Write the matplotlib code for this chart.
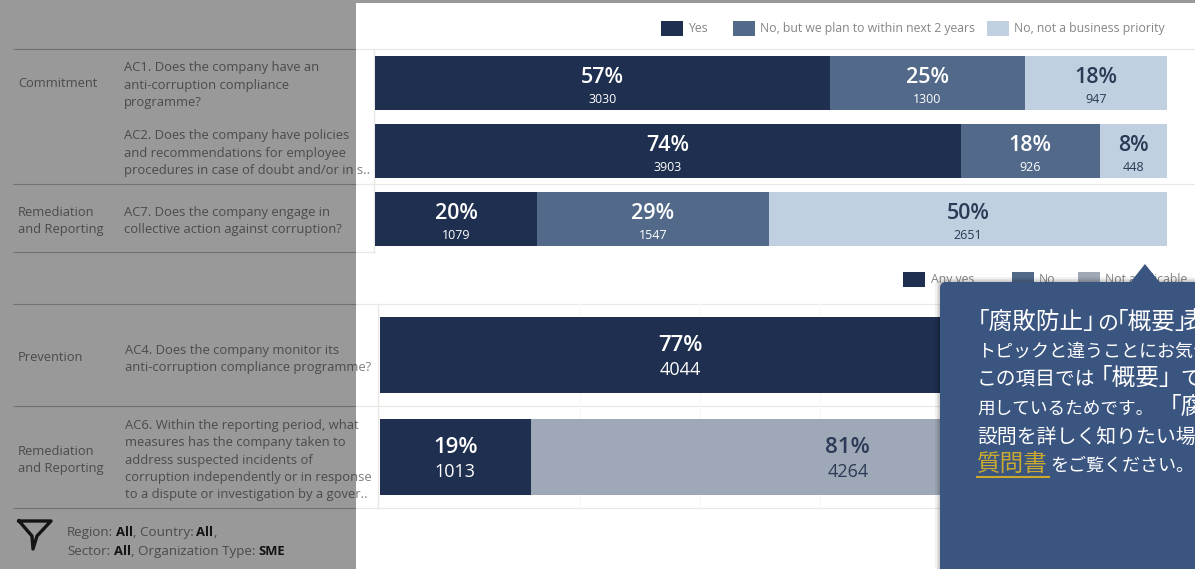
import matplotlib
matplotlib.use("Agg")
import matplotlib.pyplot as plt
from matplotlib.patches import Rectangle, FancyBboxPatch, Polygon

W, H = 1195, 569
LATIN = ["Open Sans", "DejaVu Sans"]
CJK = ["Noto Sans CJK JP", "DejaVu Sans"]

# ---- data ----
top_questions = ["AC1", "AC2", "AC7"]
top_series = ["Yes", "No, but we plan to within next 2 years", "No, not a business priority"]
top_yes = [3030, 3903, 1079]
top_plan = [1300, 926, 1547]
top_not = [947, 448, 2651]
top_yes_pct = ["57%", "74%", "20%"]
top_plan_pct = ["25%", "18%", "29%"]
top_not_pct = ["18%", "8%", "50%"]

bottom_questions = ["AC4", "AC6"]
bottom_series = ["Any yes", "No", "Not applicable"]
bottom_yes = [4044, 1013]
bottom_no = [1233, 0]        # hidden behind the callout in the reference
bottom_na = [0, 4264]
bottom_yes_pct = ["77%", "19%"]
bottom_no_pct = ["", ""]
bottom_na_pct = ["", "81%"]

row_texts = [
    ("Commitment", 83, "AC1. Does the company have an\nanti-corruption compliance\nprogramme?", 85),
    ("", 0, "AC2. Does the company have policies\nand recommendations for employee\nprocedures in case of doubt and/or in s..", 153),
    ("Remediation\nand Reporting", 221, "AC7. Does the company engage in\ncollective action against corruption?", 221),
    ("Prevention", 357, "AC4. Does the company monitor its\nanti-corruption compliance programme?", 359),
    ("Remediation\nand Reporting", 460, "AC6. Within the reporting period, what\nmeasures has the company taken to\naddress suspected incidents of\ncorruption independently or in response\nto a dispute or investigation by a gover..", 460),
]
# (text, x px, baseline y px, font size, colour)
WHITE, GOLD = "white", "#c9a92f"
callout_runs = [
    ("「腐敗防止」", 966, 329, 17, WHITE),
    ("の", 1097, 329, 15, WHITE),
    ("「概要」", 1105, 329, 17, WHITE),
    ("表", 1182, 329, 17, WHITE),
    ("トピックと違うことにお気づ", 977, 357, 13, WHITE),
    ("この項目では", 977, 385, 14.2, WHITE),
    ("「概要」", 1089, 385, 17, WHITE),
    ("で複", 1180, 385, 15, WHITE),
    ("用しているためです。", 977, 414, 12.7, WHITE),
    ("「腐", 1158, 414, 17, WHITE),
    ("設問を詳しく知りたい場", 977, 443, 14.3, WHITE),
    ("質問書", 977, 471, 17, GOLD),
    ("をご覧ください。", 1050, 471, 13, WHITE),
]

NAVY, MID, LIGHT, NA = "#1f2f4f", "#52698a", "#c0d0e0", "#9fa8b7"
LINE = "#bdbdbd"
FAINT = "#ebe9e6"
GREY = "#858585"
TXT = "#7d7d7d"

fig = plt.figure(figsize=(W / 100, H / 100), dpi=100, facecolor="white")


def px_axes(zorder):
    ax = fig.add_axes([0, 0, 1, 1], zorder=zorder)
    ax.set_xlim(0, W)
    ax.set_ylim(H, 0)
    ax.axis("off")
    return ax


def bar_axes(x0, x1, y0, y1, n, total):
    ax = fig.add_axes([x0 / W, 1 - y1 / H, (x1 - x0) / W, (y1 - y0) / H], zorder=2)
    ax.set_xlim(0, total)
    ax.set_ylim(n - 0.5, -0.5)
    ax.axis("off")
    ax.patch.set_alpha(0)
    return ax


# ---- base layer: rules and row texts ----
base = px_axes(1)
for y in [49, 184, 252, 304, 406, 508]:
    base.plot([13, 356], [y, y], color=LINE, lw=0.8, solid_capstyle="butt")
for y, x1 in [(49, 1195), (184, 1195), (252, 375), (304, 1195), (406, 1195), (508, 1195)]:
    base.plot([356, x1], [y, y], color=FAINT, lw=0.9, solid_capstyle="butt")
base.plot([374, 374], [49, 252], color=FAINT, lw=1)
base.plot([378, 378], [304, 508], color=FAINT, lw=1)
for x in [580, 700, 820, 940]:
    base.plot([x, x], [304, 508], color="#f7f7f7", lw=0.8)

for group, gy, question, qy in row_texts:
    if group:
        base.text(18, gy, group, fontsize=9.3, color=TXT, family=LATIN, va="center",
                  linespacing=1.43)
    xq = 124 if qy < 300 else 125
    base.text(xq, qy, question, fontsize=9.4, color=TXT, family=LATIN, va="center",
              linespacing=1.42)

# funnel icon and filter summary
base.plot([19, 51, 37, 33, 32, 19], [521, 521, 536, 549, 536, 521], color="#222222", lw=2.4,
          solid_joinstyle="round")
for s, x, y, bold in [("Region:", 67, 536, False), ("All", 116, 536, True), (", Country:", 133, 536, False),
                      ("All", 196, 536, True), (",", 213, 536, False), ("Sector:", 67, 555, False),
                      ("All", 114, 555, True), (", Organization Type:", 131, 555, False), ("SME", 258, 555, True)]:
    base.text(x, y, s, fontsize=9.6 if not bold else 9.4, color="#202020" if bold else TXT, family=LATIN,
              weight="bold" if bold else "normal", va="baseline")


def legend_row(labels, colors, swatch_x, text_x, y):
    for lab, col, sx, tx in zip(labels, colors, swatch_x, text_x):
        base.add_patch(Rectangle((sx, y - 7.5), 22, 15, facecolor=col, lw=0))
        base.text(tx, y, lab, fontsize=8.8, color=GREY, family=LATIN, va="center")


legend_row(top_series, [NAVY, MID, LIGHT], [661, 733, 987], [688, 760, 1014], 28)
legend_row(bottom_series, [NAVY, MID, NA], [903, 1012, 1078], [931, 1039, 1105], 279)


def stacked(ax, series, colors, pcts, count_size, pct_size, text_cols, height, offs):
    n = len(series[0])
    left = [0] * n
    for vals, col, pct, tc in zip(series, colors, pcts, text_cols):
        ax.barh(range(n), vals, left=left, color=col, height=height)
        for i, v in enumerate(vals):
            if v > 0 and pct[i]:
                cx = left[i] + v / 2
                ax.annotate(pct[i], (cx, i), xytext=(0, offs[0]), textcoords="offset points",
                            ha="center", va="center", fontsize=pct_size, color=tc,
                            family=LATIN, weight="semibold")
                ax.annotate(str(v), (cx, i), xytext=(0, offs[1]), textcoords="offset points",
                            ha="center", va="center", fontsize=count_size, color=tc, family=LATIN)
        left = [a + b for a, b in zip(left, vals)]


# ---- top chart (3 rows: centres 83, 151, 219; pitch 68 px) ----
top_total = top_yes[0] + top_plan[0] + top_not[0]
ax_top = bar_axes(375, 1167, 49, 253, 3, top_total)
stacked(ax_top, [top_yes, top_plan, top_not], [NAVY, MID, LIGHT],
        [top_yes_pct, top_plan_pct, top_not_pct], 9, 15.5, ["white", "white", "#2b3a55"], 54 / 68, (3.8, -12.2))

# ---- bottom chart (2 rows: centres 355, 458; pitch 102 px) ----
bot_total = bottom_yes[0] + bottom_no[0] + bottom_na[0]
ax_bot = bar_axes(380, 1165, 304, 508, 2, bot_total)
stacked(ax_bot, [bottom_yes, bottom_no, bottom_na], [NAVY, MID, NA],
        [bottom_yes_pct, bottom_no_pct, bottom_na_pct], 13, 16, ["white", "white", "#2b3a55"], 76 / 102, (7, -11))

# ---- top layer: dimming panel and callout ----
over = px_axes(5)
over.add_patch(Rectangle((0, 0), 356, H, facecolor="black", alpha=0.4, lw=0))
over.add_patch(Rectangle((356, 0), W - 356, 3, facecolor="black", alpha=0.4, lw=0))

for grow, a in [(5, 0.05), (3, 0.07), (1.5, 0.09)]:
    over.add_patch(FancyBboxPatch((940 - grow, 282 - grow), 300, 330, boxstyle="round,pad=0,rounding_size=7",
                                  facecolor="black", alpha=a, lw=0))
CALL = "#3b5581"
over.add_patch(FancyBboxPatch((940, 282), 300, 330, boxstyle="round,pad=0,rounding_size=6",
                              facecolor=CALL, lw=0))
over.add_patch(Polygon([(1129, 284), (1145, 264), (1161, 284)], closed=True, facecolor=CALL, lw=0,
                       joinstyle="round"))
for s, x, y, size, col in callout_runs:
    over.text(x, y, s, fontsize=size, color=col, family=CJK, va="baseline", ha="left")
over.plot([977, 1049], [477, 477], color=GOLD, lw=1.5)

fig.savefig("out.png", dpi=100)
